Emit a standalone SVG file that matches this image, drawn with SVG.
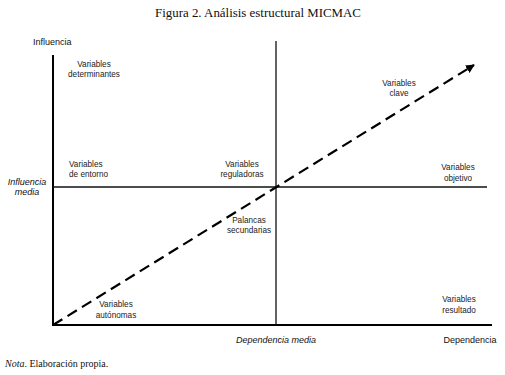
<svg xmlns="http://www.w3.org/2000/svg" width="505" height="375" viewBox="0 0 505 375">
<style>
.s{font-family:"Liberation Sans",Arial,sans-serif;font-size:8.2px;fill:#222}
.a{font-family:"Liberation Sans",Arial,sans-serif;font-size:9px;fill:#111}
.i{font-style:italic}
.t{font-family:"Liberation Serif","Times New Roman",serif;fill:#111}
.ax{stroke:#000;stroke-width:2;fill:none}
.ln{stroke:#111;stroke-width:1.3;fill:none}
</style>
<defs>
<marker id="ah" viewBox="0 0 10 10" refX="9" refY="5" markerWidth="4" markerHeight="4" orient="auto" markerUnits="strokeWidth">
<path d="M0,0 L10,5 L0,10 z" fill="#000"/>
</marker>
</defs>
<rect width="505" height="375" fill="#fff"/>
<text class="t" x="258" y="17" font-size="12.9" text-anchor="middle">Figura 2. Análisis estructural MICMAC</text>
<g id="connectors">
<line class="ax" x1="53" y1="55" x2="53" y2="326"/>
<line class="ax" x1="52" y1="325" x2="492" y2="325"/>
<line class="ln" x1="276" y1="41" x2="276" y2="325"/>
<line class="ln" x1="53" y1="187" x2="487" y2="187"/>
<line x1="53" y1="325" x2="474" y2="65" stroke="#000" stroke-width="2.2" stroke-dasharray="11,6" marker-end="url(#ah)"/>
</g>
<g id="axis-labels">
<text class="a" x="33" y="45">Influencia</text>
<text class="a i" x="27" y="185" text-anchor="middle">Influencia</text>
<text class="a i" x="27" y="195" text-anchor="middle">media</text>
<text class="a i" x="276" y="343" text-anchor="middle">Dependencia media</text>
<text class="a" x="470" y="343" text-anchor="middle">Dependencia</text>
</g>
<g id="determinantes"><text class="s" x="94" y="67" text-anchor="middle">Variables</text><text class="s" x="94" y="77" text-anchor="middle">determinantes</text></g>
<g id="clave"><text class="s" x="399" y="86" text-anchor="middle">Variables</text><text class="s" x="399" y="96" text-anchor="middle">clave</text></g>
<g id="entorno"><text class="s" x="69" y="167">Variables</text><text class="s" x="69" y="177">de entorno</text></g>
<g id="reguladoras"><text class="s" x="242" y="167" text-anchor="middle">Variables</text><text class="s" x="242" y="177" text-anchor="middle">reguladoras</text></g>
<g id="objetivo"><text class="s" x="458" y="170" text-anchor="middle">Variables</text><text class="s" x="458" y="181" text-anchor="middle">objetivo</text></g>
<g id="palancas"><text class="s" x="249" y="223" text-anchor="middle">Palancas</text><text class="s" x="249" y="233" text-anchor="middle">secundarias</text></g>
<g id="autonomas"><text class="s" x="116" y="307" text-anchor="middle">Variables</text><text class="s" x="116" y="318" text-anchor="middle">autónomas</text></g>
<g id="resultado"><text class="s" x="459" y="302" text-anchor="middle">Variables</text><text class="s" x="459" y="313" text-anchor="middle">resultado</text></g>
<text class="t" x="5" y="367" font-size="10"><tspan font-style="italic">Nota</tspan>. Elaboración propia.</text>
</svg>
